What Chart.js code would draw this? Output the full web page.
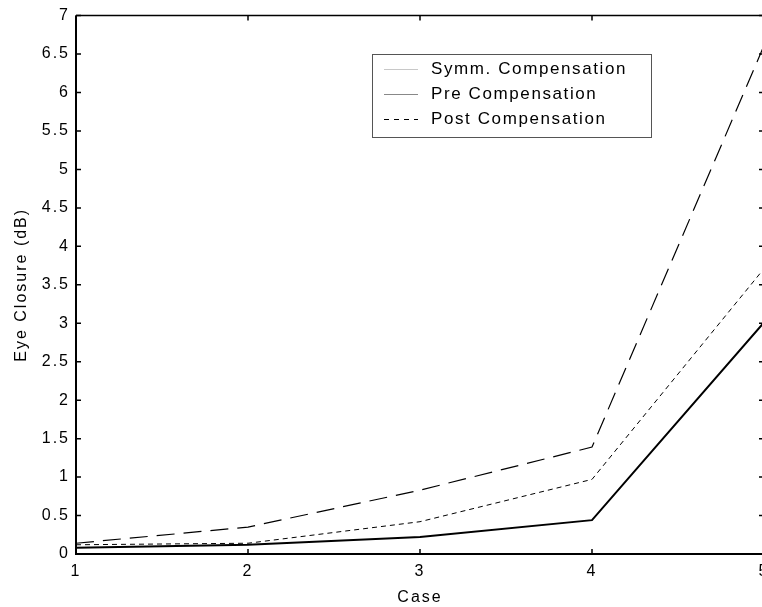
<!DOCTYPE html>
<html lang="en">
<head>
  <meta charset="UTF-8" />
  <title>Eye Closure vs Case</title>
  <script src="https://cdn.jsdelivr.net/npm/chart.js"></script>
  <style>
    html, body { margin: 0; padding: 0; background: #fff; overflow: hidden; width: 762px; height: 607px; }
    #wrap { position: absolute; left: 0; top: 0; width: 762px; height: 607px; overflow: hidden; }
    #eyeChart { display: block; }
  </style>
</head>
<body>
  <div id="wrap">
    <canvas id="eyeChart" width="770" height="607"></canvas>
  </div>

  <script>
    // values
    const cases = [1, 2, 3, 4, 5];
    const symmComp = [0.08, 0.12, 0.22, 0.44, 3.01];
    const preComp = [0.14, 0.35, 0.83, 1.39, 6.61];
    const postComp = [0.12, 0.14, 0.42, 0.97, 3.71];
    const yTicks = [0, 0.5, 1, 1.5, 2, 2.5, 3, 3.5, 4, 4.5, 5, 5.5, 6, 6.5, 7];

    const toPoints = arr => cases.map((c, i) => ({ x: c, y: arr[i] }));

    // matlab style box with inward ticks + boxed legend
    const framePlugin = {
      id: 'frame',
      beforeDraw(chart) {
        chart.ctx.letterSpacing = '2px';
      },
      afterDraw(chart) {
        const { ctx, chartArea: a, scales } = chart;
        ctx.save();
        ctx.letterSpacing = '0px';
        ctx.strokeStyle = '#000';

        ctx.lineWidth = 2;
        ctx.beginPath();
        ctx.moveTo(a.left, a.top); ctx.lineTo(a.left, a.bottom); ctx.lineTo(a.right, a.bottom);
        ctx.stroke();
        ctx.lineWidth = 1.5;
        ctx.beginPath();
        ctx.moveTo(a.left, a.top); ctx.lineTo(a.right, a.top); ctx.lineTo(a.right, a.bottom);
        ctx.stroke();

        const tl = 5;
        ctx.lineWidth = 1.5;
        ctx.beginPath();
        yTicks.forEach(v => {
          const y = scales.y.getPixelForValue(v);
          ctx.moveTo(a.left, y); ctx.lineTo(a.left + tl, y);
          ctx.moveTo(a.right, y); ctx.lineTo(a.right - tl, y);
        });
        cases.forEach(v => {
          const x = scales.x.getPixelForValue(v);
          ctx.moveTo(x, a.bottom); ctx.lineTo(x, a.bottom - tl);
          ctx.moveTo(x, a.top); ctx.lineTo(x, a.top + tl);
        });
        ctx.stroke();

        // legend box
        const bx = 372, by = 54, bw = 279, bh = 83;
        ctx.fillStyle = '#fff';
        ctx.fillRect(bx, by, bw, bh);
        ctx.lineWidth = 1;
        ctx.strokeStyle = '#555';
        ctx.strokeRect(bx + 0.5, by + 0.5, bw, bh);

        ctx.font = '17px "Liberation Sans", Arial, sans-serif';
        ctx.letterSpacing = '1.6px';
        ctx.textBaseline = 'middle';
        ctx.fillStyle = '#000';
        chart.data.datasets.forEach((ds, i) => {
          const y = 69 + i * 25;
          ctx.save();
          ctx.strokeStyle = ds.legendColor;
          ctx.lineWidth = 1;
          ctx.setLineDash(ds.legendDash);
          ctx.beginPath();
          ctx.moveTo(384, y + 0.5); ctx.lineTo(418, y + 0.5);
          ctx.stroke();
          ctx.restore();
          ctx.fillText(ds.label, 431, y);
        });
        ctx.restore();
      }
    };

    const axisFont = { family: '"Liberation Sans", Arial, sans-serif', size: 16 };

    new Chart(document.getElementById('eyeChart'), {
      type: 'line',
      data: {
        datasets: [
          {
            label: 'Symm. Compensation',
            data: toPoints(symmComp),
            borderColor: '#000',
            borderWidth: 2,
            legendColor: '#c8c8c8',
            legendDash: [],
            pointRadius: 0,
            tension: 0
          },
          {
            label: 'Pre Compensation',
            data: toPoints(preComp),
            borderColor: '#000',
            borderWidth: 1.2,
            borderDash: [18, 9],
            legendColor: '#888',
            legendDash: [],
            pointRadius: 0,
            tension: 0
          },
          {
            label: 'Post Compensation',
            data: toPoints(postComp),
            borderColor: '#000',
            borderWidth: 1,
            borderDash: [5, 4],
            legendColor: '#000',
            legendDash: [5, 5],
            pointRadius: 0,
            tension: 0
          }
        ]
      },
      options: {
        responsive: false,
        animation: false,
        layout: { padding: { top: 15, right: 6, left: 0, bottom: 0 } },
        plugins: {
          legend: { display: false },
          tooltip: { enabled: false }
        },
        scales: {
          x: {
            type: 'linear',
            min: 1,
            max: 5,
            afterFit: s => { s.height = 53; s.paddingLeft = 0; s.paddingRight = 0; },
            afterBuildTicks: s => { s.ticks = cases.map(v => ({ value: v })); },
            grid: { display: false, drawTicks: false },
            border: { display: false },
            ticks: { color: '#000', font: axisFont, padding: 8, maxRotation: 0, callback: v => String(v) },
            title: {
              display: true, text: 'Case', color: '#000',
              font: axisFont,
              padding: { top: 0, bottom: 0 }
            }
          },
          y: {
            min: 0,
            max: 7,
            afterFit: s => { s.width = 76; },
            afterBuildTicks: s => { s.ticks = yTicks.map(v => ({ value: v })); },
            grid: { display: false, drawTicks: false },
            border: { display: false },
            ticks: { color: '#000', font: axisFont, padding: 6, callback: v => String(v) },
            title: {
              display: true, text: 'Eye Closure (dB)', color: '#000',
              font: axisFont,
              padding: { top: 12, bottom: 12 }
            }
          }
        }
      },
      plugins: [framePlugin]
    });
  </script>
</body>
</html>
